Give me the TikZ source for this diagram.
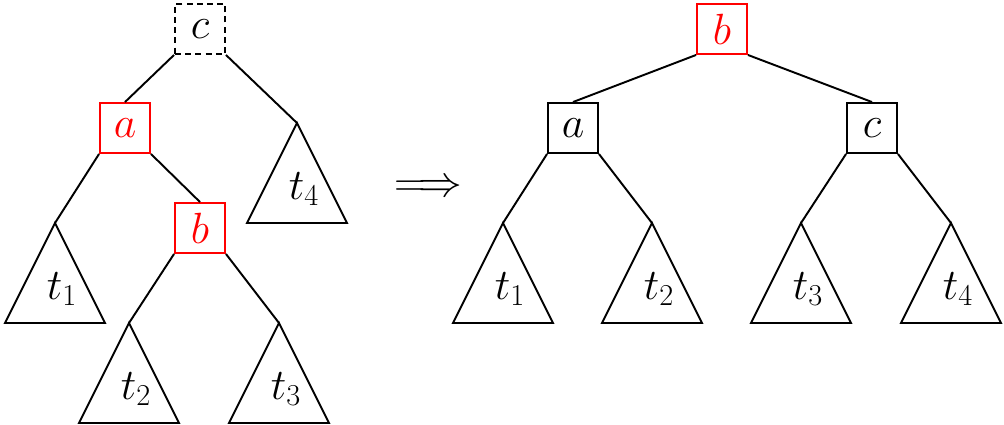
\documentclass[tikz,border=0pt]{standalone}
\usetikzlibrary{calc}
\begin{document}
\begin{tikzpicture}[x=0.02cm,y=-0.02cm,
  every node/.style={font=\fontsize{25}{30}\selectfont},
  keybox/.style={draw,line width=1.1pt,minimum size=1cm,inner sep=0pt},
  redbox/.style={keybox,draw=red,text=red},
  dashbox/.style={keybox,dash pattern=on 3.4pt off 2.4pt},
  edge/.style={line width=1.1pt},
  subtree/.style={line width=1.1pt,line join=miter}]
\useasboundingbox (0,0) rectangle (1004,424);
% left tree
\node[dashbox] (Lc) at (200,29) {$c$};
\node[redbox] (La) at (125,128) {$a$};
\node[redbox] (Lb) at (200,228) {$b$};
\coordinate (L1) at (55,223);
\coordinate (L2) at (129,323);
\coordinate (L3) at (279,323);
\coordinate (L4) at (297,123);
\foreach \p/\t in {L1/1,L2/2,L3/3,L4/4}{
  \draw[subtree] (\p) -- ++(-50,100) -- ++(100,0) -- cycle;
  \node (\p lab) at ($(\p)+(7,66)$) {$t_{\t}$};
}
\draw[edge] (Lc.south west) -- (La.north);
\draw[edge] (Lc.south east) -- (L4);
\draw[edge] (La.south west) -- (L1);
\draw[edge] (La.south east) -- (Lb.north);
\draw[edge] (Lb.south west) -- (L2);
\draw[edge] (Lb.south east) -- (L3);
% arrow
\node[inner sep=0pt] (arr) at (428,188) {$\Longrightarrow$};
% right tree
\node[redbox] (Rb) at (722,29) {$b$};
\node[keybox] (Ra) at (573,128) {$a$};
\node[keybox] (Rc) at (872,128) {$c$};
\coordinate (R1) at (503,223);
\coordinate (R2) at (652,223);
\coordinate (R3) at (801,223);
\coordinate (R4) at (951,223);
\foreach \p/\t in {R1/1,R2/2,R3/3,R4/4}{
  \draw[subtree] (\p) -- ++(-50,100) -- ++(100,0) -- cycle;
  \node (\p lab) at ($(\p)+(7,66)$) {$t_{\t}$};
}
\draw[edge] (Rb.south west) -- (Ra.north);
\draw[edge] (Rb.south east) -- (Rc.north);
\draw[edge] (Ra.south west) -- (R1);
\draw[edge] (Ra.south east) -- (R2);
\draw[edge] (Rc.south west) -- (R3);
\draw[edge] (Rc.south east) -- (R4);
\end{tikzpicture}
\end{document}
